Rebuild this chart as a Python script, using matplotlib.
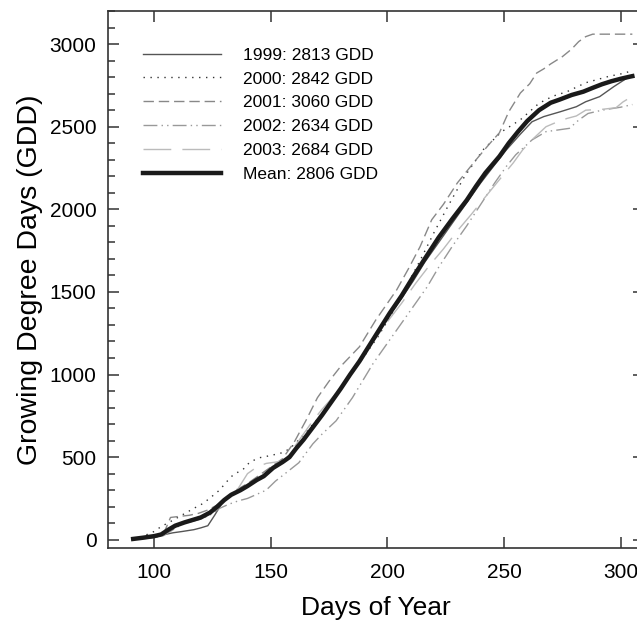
import numpy as np
import matplotlib.pyplot as plt
from matplotlib.ticker import MultipleLocator

plt.rcParams['font.family'] = ['Liberation Sans', 'DejaVu Sans']

# GDD curves (day of year, cumulative GDD)
days_1999 = [91, 95, 100, 104, 108, 112, 117, 120, 123, 126, 129, 132, 137, 141, 145, 150, 155, 158, 162, 166, 170, 175, 180, 185, 190, 196, 201, 206, 211, 216, 222, 228, 234, 240, 246, 251, 257, 262, 267, 274, 281, 285, 291, 297, 303, 305]
gdd_1999 = [3, 8, 15, 30, 42, 50, 61, 72, 85, 150, 220, 265, 295, 330, 370, 420, 465, 500, 570, 640, 720, 820, 920, 1020, 1130, 1255, 1360, 1460, 1565, 1680, 1800, 1920, 2040, 2160, 2270, 2360, 2455, 2530, 2561, 2590, 2621, 2651, 2682, 2742, 2797, 2813]

days_2000 = [91, 95, 100, 103, 107, 112, 117, 121, 125, 128, 131, 134, 138, 141, 145, 150, 155, 158, 161, 165, 170, 175, 180, 185, 190, 196, 202, 208, 214, 220, 226, 233, 241, 249, 257, 265, 271, 277, 285, 295, 302, 305]
gdd_2000 = [5, 20, 50, 80, 110, 150, 190, 220, 265, 300, 350, 395, 424, 470, 496, 510, 527, 550, 590, 650, 730, 820, 910, 1010, 1110, 1230, 1370, 1530, 1690, 1860, 2020, 2197, 2360, 2470, 2542, 2642, 2685, 2712, 2766, 2805, 2825, 2842]

days_2001 = [91, 95, 100, 104, 107, 110, 115, 119, 123, 127, 131, 135, 140, 145, 150, 155, 160, 165, 170, 175, 180, 188, 195, 204, 209, 214, 219, 224, 230, 238, 244, 248, 252, 257, 261, 264, 267, 270, 275, 279, 282, 285, 288, 305]
gdd_2001 = [3, 8, 15, 35, 135, 140, 148, 160, 180, 210, 250, 300, 340, 390, 440, 490, 590, 720, 860, 960, 1050, 1168, 1330, 1513, 1640, 1774, 1937, 2030, 2160, 2300, 2400, 2463, 2590, 2704, 2760, 2825, 2850, 2880, 2924, 2970, 3015, 3045, 3060, 3060]

days_2002 = [91, 95, 100, 104, 108, 112, 116, 120, 124, 128, 132, 136, 140, 144, 148, 152, 157, 162, 168, 172, 178, 185, 194, 203, 211, 217, 222, 228, 234, 240, 246, 251, 255, 262, 268, 274, 278, 282, 286, 292, 300, 305]
gdd_2002 = [2, 6, 14, 25, 60, 95, 110, 125, 150, 190, 215, 235, 250, 275, 300, 355, 410, 466, 580, 640, 720, 860, 1070, 1250, 1410, 1530, 1650, 1780, 1900, 2030, 2160, 2260, 2330, 2420, 2470, 2482, 2490, 2540, 2580, 2600, 2618, 2634]

days_2003 = [91, 95, 100, 104, 108, 112, 116, 120, 124, 128, 132, 136, 140, 144, 148, 152, 156, 160, 164, 168, 172, 177, 182, 188, 194, 200, 206, 212, 218, 224, 230, 236, 241, 248, 254, 258, 262, 268, 273, 277, 281, 285, 292, 298, 301, 305]
gdd_2003 = [3, 8, 16, 35, 70, 100, 120, 140, 170, 215, 265, 310, 400, 440, 462, 470, 480, 560, 640, 720, 790, 870, 960, 1080, 1200, 1320, 1430, 1550, 1660, 1760, 1870, 1970, 2058, 2179, 2282, 2360, 2421, 2500, 2530, 2550, 2565, 2600, 2605, 2615, 2650, 2684]

days_mean = [91, 95, 100, 103, 106, 109, 113, 117, 120, 124, 127, 130, 133, 137, 140, 144, 147, 151, 155, 158, 161, 164, 168, 172, 176, 180, 184, 188, 192, 196, 201, 206, 211, 216, 222, 228, 234, 238, 242, 248, 252, 256, 260, 265, 270, 274, 279, 284, 288, 292, 296, 300, 304, 305]
gdd_mean = [5, 12, 22, 32, 60, 85, 105, 122, 135, 165, 200, 240, 272, 300, 325, 362, 385, 435, 470, 500, 555, 605, 680, 755, 835, 915, 1000, 1080, 1170, 1260, 1372, 1475, 1590, 1700, 1830, 1945, 2055, 2140, 2220, 2320, 2400, 2470, 2535, 2600, 2645, 2665, 2692, 2712, 2735, 2757, 2775, 2790, 2803, 2806]

labels = ['1999: 2813 GDD', '2000: 2842 GDD', '2001: 3060 GDD',
          '2002: 2634 GDD', '2003: 2684 GDD', 'Mean: 2806 GDD']

fig = plt.figure(figsize=(6.37, 6.2), dpi=100)
ax = fig.add_axes([0.1688, 0.1161, 0.8422, 0.8661])

ax.plot(days_1999, gdd_1999, color='#555555', lw=1.0, ls='-', label=labels[0])
ax.plot(days_2000, gdd_2000, color='#333333', lw=1.0, ls=(0, (1, 4)), label=labels[1])
ax.plot(days_2001, gdd_2001, color='#888888', lw=1.0, ls=(0, (7.5, 3.5)), label=labels[2])
ax.plot(days_2002, gdd_2002, color='#999999', lw=1.0, ls=(0, (10, 3, 1, 3, 1, 3)), label=labels[3])
ax.plot(days_2003, gdd_2003, color='#bbbbbb', lw=1.0, ls=(0, (20, 8)), label=labels[4])
ax.plot(days_mean, gdd_mean, color='#1a1a1a', lw=3.2, ls='-', label=labels[5])

ax.set_xlim(80, 310)
ax.set_ylim(-50, 3200)
ax.xaxis.set_major_locator(MultipleLocator(50))
ax.yaxis.set_major_locator(MultipleLocator(500))
ax.yaxis.set_minor_locator(MultipleLocator(100))

ax.tick_params(which='both', direction='in', top=True, right=True, width=1.1, color='#333333', labelsize=15)
ax.tick_params(which='major', length=8, pad=8)
ax.tick_params(axis='x', which='major', pad=11)
ax.tick_params(which='minor', length=5, right=False)
for s in ax.spines.values():
    s.set_color('#333333')
    s.set_linewidth(1.2)

ax.set_xlabel('Days of Year', fontsize=19, labelpad=10)
ax.set_ylabel('Growing Degree Days (GDD)', fontsize=20.5, labelpad=5)

ax.legend(loc='upper left', bbox_to_anchor=(0.066, 0.932), frameon=False, fontsize=12.5,
          handlelength=4.5, handletextpad=1.25, labelspacing=0.5, borderaxespad=0, borderpad=0)

fig.savefig('out.png', dpi=100)
